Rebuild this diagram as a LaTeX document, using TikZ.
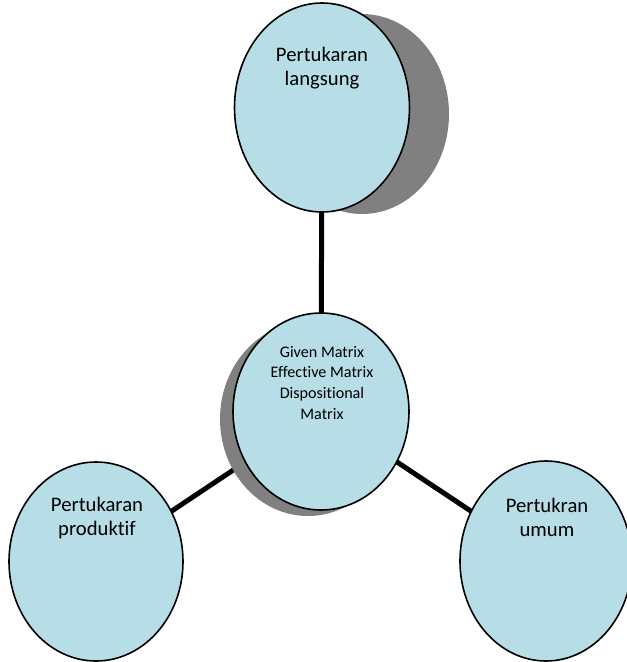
\documentclass[tikz,border=0pt]{standalone}
\usepackage{fontspec}
\setmainfont{Carlito}[Ligatures=NoCommon]
\usetikzlibrary{shapes.geometric,backgrounds}
\definecolor{bubble}{RGB}{183,222,230}
\definecolor{shade}{RGB}{128,128,128}
\begin{document}
\begin{tikzpicture}[x=0.75pt,y=-0.75pt,
  bub/.style={ellipse,draw=black,line width=1.2pt,fill=bubble,inner sep=0pt},
  shd/.style={ellipse,fill=shade,inner sep=0pt},
  link/.style={line width=3.75pt,black},
  bigtxt/.style={font=\fontsize{15.5}{17.6}\selectfont,align=center,inner sep=0pt,anchor=base},
  smalltxt/.style={font=\fontsize{12.1}{15.4}\selectfont,align=center,inner sep=0pt,anchor=base}]
\useasboundingbox (0,0) rectangle (627,662);
% shadows
\node[shd,minimum width=130.5pt,minimum height=150pt] (topsh) at (362,114) {};
\node[shd,minimum width=132pt,minimum height=145.5pt] (censh) at (308,419) {};
% bubbles
\node[bub,minimum width=131.25pt,minimum height=156.75pt] (top) at (322,107.5) {};
\node[bub,minimum width=132pt,minimum height=147.75pt] (cen) at (321,411.5) {};
\node[bub,minimum width=130.5pt,minimum height=149.25pt] (left) at (96,561.5) {};
\node[bub,minimum width=129pt,minimum height=150pt] (right) at (546,561) {};
% connectors
\begin{pgfonlayer}{background}
\draw[link] (top.center) -- (cen.center);
\draw[link] (cen.center) -- (left.center);
\draw[link] (cen.center) -- (right.center);
\end{pgfonlayer}
% texts (anchor base = baseline of last line)
\node[bigtxt] (ttop) at (322,85) {Pertukaran\\langsung};
\node[smalltxt] (tcen) at (322,419) {Given Matrix\\Effective Matrix\\Dispositional\\Matrix};
\node[bigtxt] (tleft) at (97,535) {Pertukaran\\produktif};
\node[bigtxt] (tright) at (547,536) {Pertukran\\umum};
\end{tikzpicture}
\end{document}
